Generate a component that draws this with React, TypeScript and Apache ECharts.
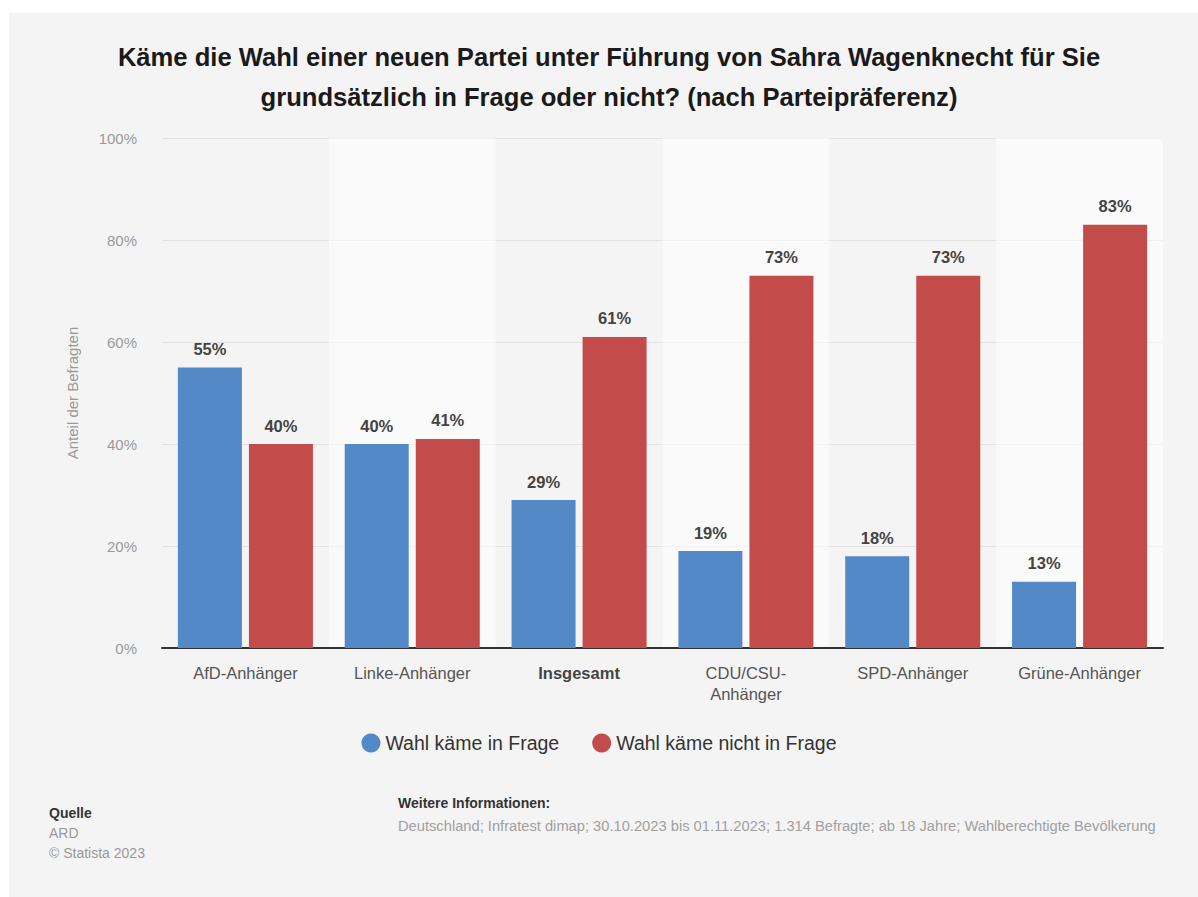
import React, { useEffect, useRef } from "react";
import * as echarts from "echarts";

const categories = ["AfD-Anhänger", "Linke-Anhänger", "Insgesamt", "CDU/CSU-\nAnhänger", "SPD-Anhänger", "Grüne-Anhänger"];
const seriesNames = ["Wahl käme in Frage", "Wahl käme nicht in Frage"];
const inFrage = [55, 40, 29, 19, 18, 13];
const nichtInFrage = [40, 41, 61, 73, 73, 83];
const titleText = "Käme die Wahl einer neuen Partei unter Führung von Sahra Wagenknecht für Sie\ngrundsätzlich in Frage oder nicht? (nach Parteipräferenz)";
const yAxisName = "Anteil der Befragten";

const FONT = "'Liberation Sans', Arial, Helvetica, sans-serif";

export default function App() {
  const ref = useRef<HTMLDivElement>(null);
  useEffect(() => {
    if (!ref.current) return;
    const chart = echarts.init(ref.current, null, { renderer: "svg" });
    const labelCommon = {
      show: true,
      position: "top" as const,
      distance: 10,
      formatter: "{c}%",
      fontFamily: FONT,
      fontSize: 16.5,
      fontWeight: "bold" as const,
      color: "#444",
    };
    chart.setOption({
      animation: false,
      backgroundColor: "#ffffff",
      textStyle: { fontFamily: FONT },
      graphic: [
        {
          type: "rect",
          z: -10,
          silent: true,
          shape: { x: 9, y: 13, width: 1189, height: 884 },
          style: { fill: "#f4f4f4" },
        },
        {
          type: "text",
          x: 609,
          y: 37,
          style: {
            text: titleText,
            fontFamily: FONT,
            fontSize: 25.6,
            fontWeight: "bold",
            fill: "#1a1a1a",
            lineHeight: 40,
            align: "center",
            verticalAlign: "top",
          },
        },
        {
          type: "text",
          x: 49,
          y: 806,
          style: { text: "Quelle", fontFamily: FONT, fontSize: 14, fontWeight: "bold", fill: "#333" },
        },
        {
          type: "text",
          x: 49,
          y: 823,
          style: { text: "ARD\n© Statista 2023", fontFamily: FONT, fontSize: 14, fill: "#999", lineHeight: 20 },
        },
        {
          type: "text",
          x: 398,
          y: 796,
          style: { text: "Weitere Informationen:", fontFamily: FONT, fontSize: 14, fontWeight: "bold", fill: "#333" },
        },
        {
          type: "text",
          x: 398,
          y: 818,
          style: {
            text: "Deutschland; Infratest dimap; 30.10.2023 bis 01.11.2023; 1.314 Befragte; ab 18 Jahre; Wahlberechtigte Bevölkerung",
            fontFamily: FONT,
            fontSize: 14.7,
            fill: "#a0a0a0",
          },
        },
      ],
      legend: {
        data: seriesNames,
        top: 728,
        left: "center",
        icon: "circle",
        itemWidth: 19,
        itemHeight: 19,
        itemGap: 33,
        textStyle: { fontFamily: FONT, fontSize: 19.5, color: "#333" },
      },
      grid: { left: 162, right: 35, top: 138, bottom: 249 },
      xAxis: {
        type: "category",
        data: categories,
        axisLine: { lineStyle: { color: "#333", width: 2 } },
        axisTick: { show: false },
        splitArea: {
          show: true,
          areaStyle: { color: ["rgba(255,255,255,0)", "rgba(255,255,255,0.55)"] },
        },
        axisLabel: {
          fontFamily: FONT,
          fontSize: 16.5,
          color: "#555",
          margin: 14,
          lineHeight: 21,
          interval: 0,
          formatter: (v: string) => (v === "Insgesamt" ? "{b|" + v + "}" : v),
          rich: { b: { fontWeight: "bold", fontSize: 16.5, color: "#444", fontFamily: FONT } },
        },
      },
      yAxis: {
        type: "value",
        min: 0,
        max: 100,
        interval: 20,
        name: yAxisName,
        nameLocation: "middle",
        nameGap: 82,
        nameTextStyle: { fontFamily: FONT, fontSize: 15, color: "#999" },
        axisLine: { show: false },
        axisTick: { show: false },
        axisLabel: { formatter: "{value}%", fontFamily: FONT, fontSize: 15, color: "#9a9a9a", margin: 25 },
        splitLine: { lineStyle: { color: "#e2e2e2", width: 1 } },
      },
      series: [
        {
          name: seriesNames[0],
          type: "bar",
          data: inFrage,
          barWidth: 64,
          barGap: "11%",
          itemStyle: { color: "#5389c6" },
          label: labelCommon,
        },
        {
          name: seriesNames[1],
          type: "bar",
          data: nichtInFrage,
          barWidth: 64,
          barGap: "11%",
          itemStyle: { color: "#c34c4b" },
          label: labelCommon,
        },
      ],
    });
    return () => chart.dispose();
  }, []);
  return (
    <div
      ref={ref}
      style={{ position: "absolute", left: 0, top: 0, width: 1198, height: 897 }}
    />
  );
}
